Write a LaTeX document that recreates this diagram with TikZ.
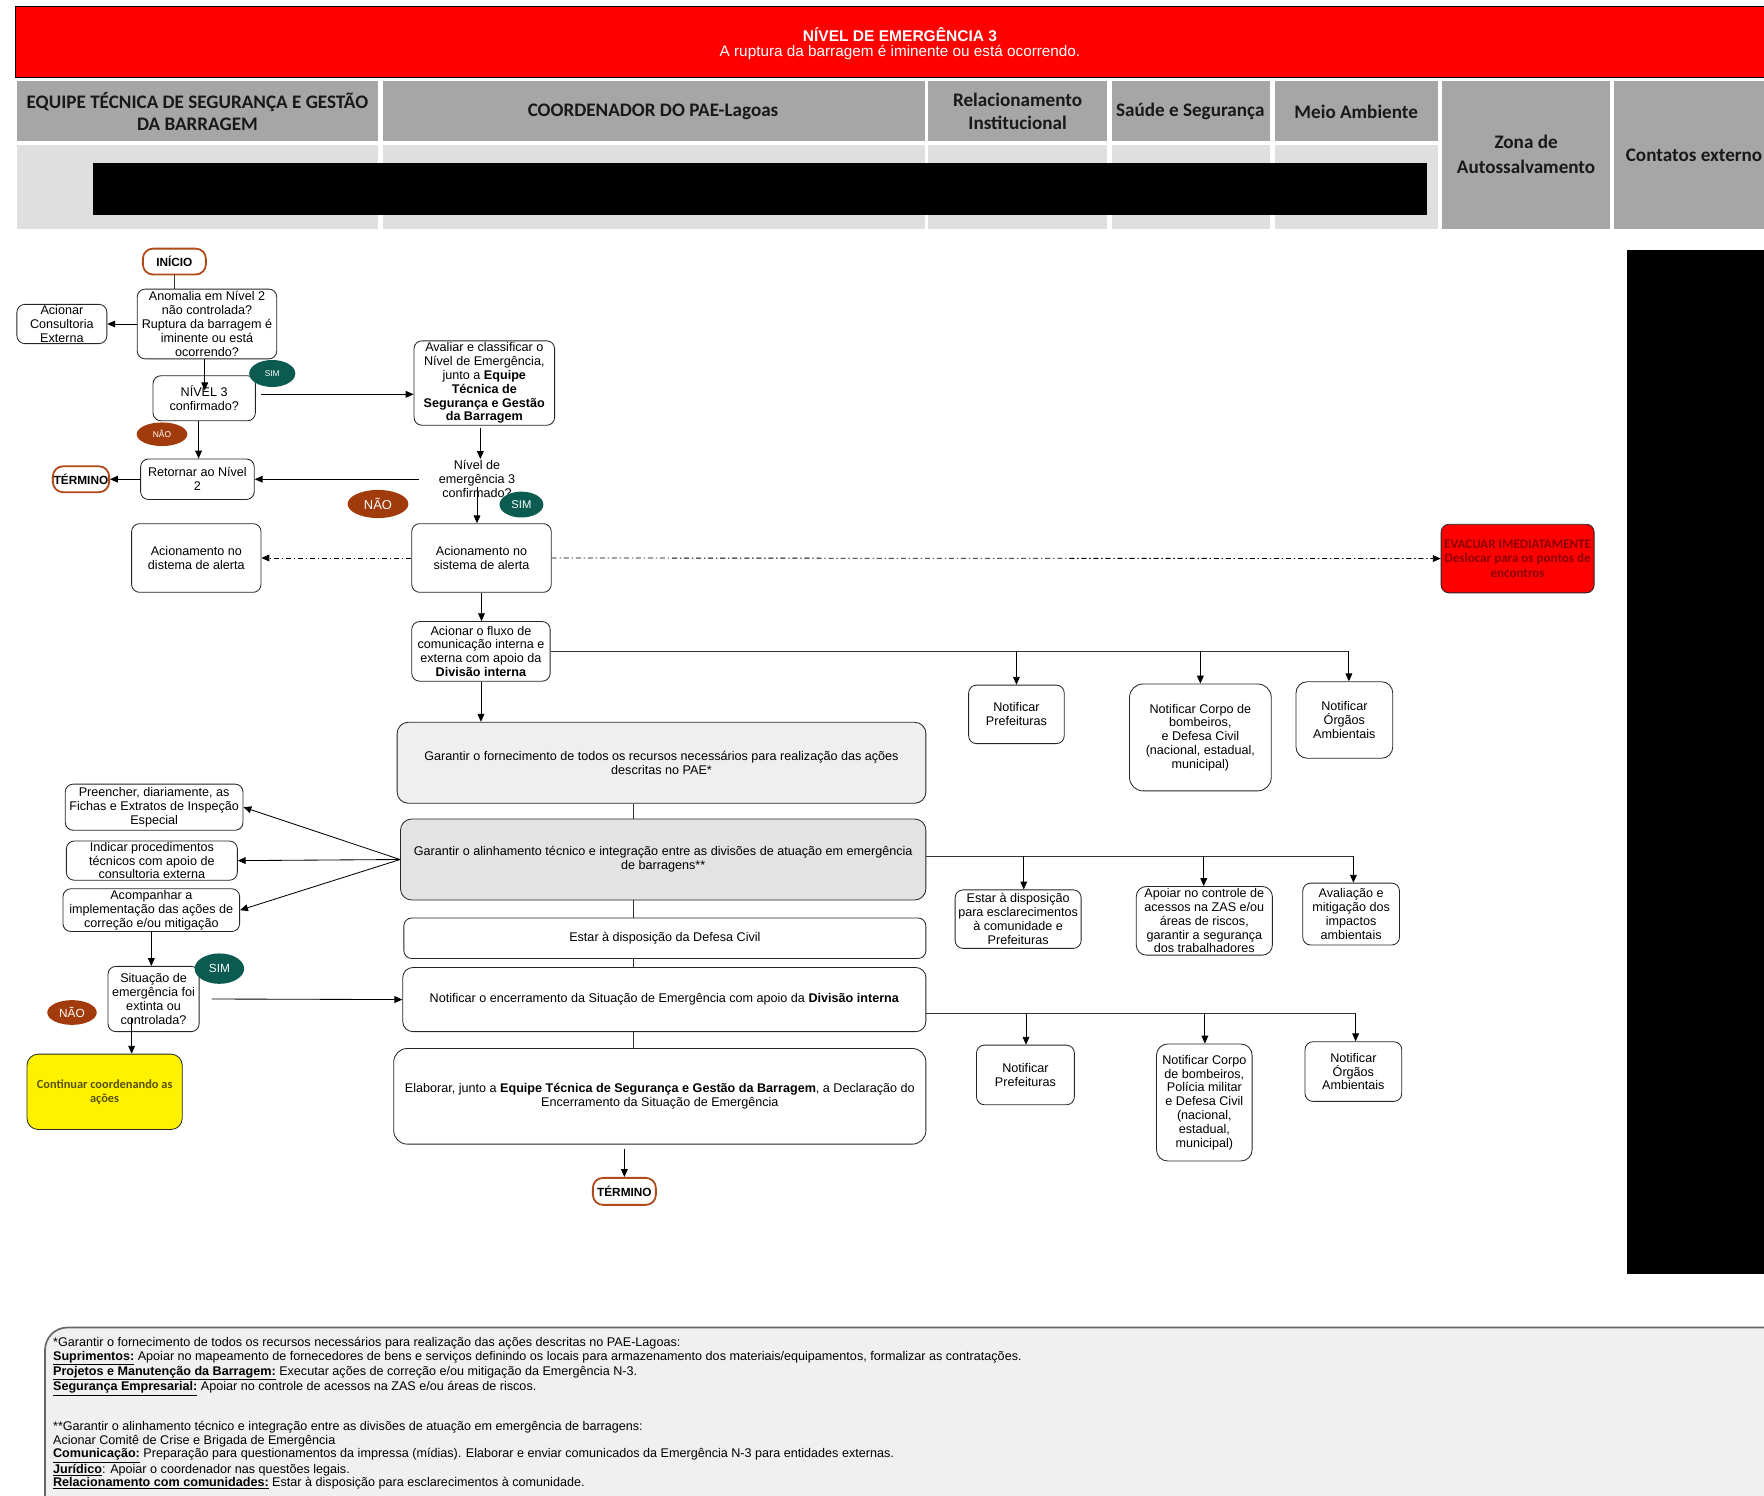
\documentclass[tikz,border=0pt]{standalone}
\usepackage{fontspec}
\setmainfont{Liberation Sans}
\newfontfamily\calib{Carlito}
\usetikzlibrary{arrows.meta,shapes.geometric}
\definecolor{hdrgray}{HTML}{A6A6A6}
\definecolor{rowgray}{HTML}{DFDFDF}
\definecolor{simc}{HTML}{0B5B50}
\definecolor{naoc}{HTML}{A23B0C}
\definecolor{termc}{HTML}{B04A1A}
\definecolor{fornc}{HTML}{EFEFEF}
\definecolor{alinc}{HTML}{E3E3E3}
\definecolor{evactxt}{HTML}{8A0000}
\definecolor{conttxt}{HTML}{55520A}
\definecolor{footc}{HTML}{F0F0F0}
\definecolor{footb}{HTML}{666666}
\newcommand{\fnlab}[1]{\underline{\textbf{#1}}}
\tikzset{
 box/.style={draw=black!85, line width=0.75pt, rounded corners=7pt, fill=white, align=center, inner sep=1pt, font=\fontsize{11.2}{12.3}\selectfont},
 term/.style={draw=termc, line width=1.6pt, rounded corners=9pt, fill=white, inner sep=0pt, font=\bfseries\fontsize{10.5}{12}\selectfont},
 badge/.style={ellipse, inner sep=0pt, text=white},
 simb/.style={badge, fill=simc},
 naob/.style={badge, fill=naoc},
 arr/.style={draw=black, line width=0.75pt, -{Triangle[length=7pt,width=6pt]}},
 conn/.style={draw=black!80, line width=0.75pt},
 ddash/.style={arr, dash pattern=on 4.5pt off 2.5pt on 1.2pt off 2.5pt},
 hdr/.style={font=\calib\bfseries\fontsize{17}{20}\selectfont, align=center, text=black!90},
}
\begin{document}
\begin{tikzpicture}[x=1pt,y=-1pt]
\useasboundingbox (0,0) rectangle (1568,1329);
\begin{scope}
\clip (0,0) rectangle (1568,1329);
% ---------- header ----------
\draw[fill=red, draw=black, line width=1pt] (14,6) rectangle (1590,69);
\node[font=\bfseries\fontsize{13.8}{15}\selectfont, text=white] (title) at (800,31) {NÍVEL DE EMERGÊNCIA 3};
\node[font=\fontsize{13.6}{15}\selectfont, text=white] (subtitle) at (800,46.5) {A ruptura da barragem é iminente ou está ocorrendo.};
\fill[hdrgray] (15,72) rectangle (336,125);
\fill[hdrgray] (340,72) rectangle (822,125);
\fill[hdrgray] (825,72) rectangle (984,125);
\fill[hdrgray] (988,72) rectangle (1129,125);
\fill[hdrgray] (1133,72) rectangle (1278,125);
\fill[hdrgray] (1282,72) rectangle (1431,204);
\fill[hdrgray] (1435,72) rectangle (1590,204);
\fill[rowgray] (15,129) rectangle (336,204);
\fill[rowgray] (340,129) rectangle (822,204);
\fill[rowgray] (825,129) rectangle (984,204);
\fill[rowgray] (988,129) rectangle (1129,204);
\fill[rowgray] (1133,129) rectangle (1278,204);
\fill[black] (83,145) rectangle (1268,191);
\fill[black] (1446,222) rectangle (1590,1132);
\node[hdr] (h1) at (175.5,99) {EQUIPE TÉCNICA DE SEGURANÇA E GESTÃO\\DA BARRAGEM};
\node[hdr] (h2) at (580.5,99) {COORDENADOR DO PAE-Lagoas};
\node[hdr] (h3) at (904.5,99) {Relacionamento\\Institucional};
\node[hdr] (h4) at (1058,99) {Saúde e Segurança};
\node[hdr] (h5) at (1205.5,99) {Meio Ambiente};
\node[hdr, font=\calib\bfseries\fontsize{17}{22}\selectfont] (h6) at (1356.5,137) {Zona de\\Autossalvamento};
\node[hdr, anchor=west, inner sep=0pt] (h7) at (1445,138) {Contatos externo};
% ---------- nodes ----------
\node[term, minimum width=56pt, minimum height=23pt] (inicio) at (155,232.5) {INÍCIO};
\node[box, minimum width=124pt, minimum height=62pt] (anom) at (184,288) {Anomalia em Nível 2\\não controlada?\\Ruptura da barragem é\\iminente ou está\\ocorrendo?};
\node[box, minimum width=80pt, minimum height=34pt] (consult) at (55,288) {Acionar\\Consultoria\\Externa};
\node[box, minimum width=91pt, minimum height=40pt] (n3) at (181.5,354) {NÍVEL 3\\confirmado?};
\node[box, minimum width=125pt, minimum height=75pt] (aval) at (430.5,340.5) {Avaliar e classificar o\\Nível de Emergência,\\junto a \textbf{Equipe}\\\textbf{Técnica de}\\\textbf{Segurança e Gestão}\\\textbf{da Barragem}};
\node[align=center, inner sep=0pt, font=\fontsize{11.2}{12.4}\selectfont] (niv) at (424,425.8) {Nível de\\emergência 3\\confirmado?};
\node[box, minimum width=101pt, minimum height=36pt] (retornar) at (175.5,426) {Retornar ao Nível\\2};
\node[term, minimum width=50pt, minimum height=23pt] (t1) at (72,426) {TÉRMINO};
\node[box, minimum width=124pt, minimum height=61pt] (acion) at (428,496) {Acionamento no\\sistema de alerta};
\node[box, minimum width=115pt, minimum height=61pt] (acionL) at (174.5,496) {Acionamento no\\distema de alerta};
\node[box, fill=red, minimum width=136pt, minimum height=61pt, inner sep=0pt, text=evactxt, font=\calib\bfseries\fontsize{11.6}{13}\selectfont] (evac) at (1349,496.5) {EVACUAR IMEDIATAMENTE\\Deslocar para os pontos de\\encontros};
\node[box, minimum width=123pt, minimum height=53pt] (fluxo) at (427.5,579) {Acionar o fluxo de\\comunicação interna e\\externa com apoio da\\\textbf{Divisão interna}};
\node[box, minimum width=85pt, minimum height=52pt] (prefA) at (903.5,635) {Notificar\\Prefeituras};
\node[box, minimum width=126pt, minimum height=95pt, rounded corners=12pt] (bombA) at (1067,655.5) {Notificar Corpo de\\bombeiros,\\e Defesa Civil\\(nacional, estadual,\\municipal)};
\node[box, minimum width=86pt, minimum height=68pt, rounded corners=10pt] (orgA) at (1195,640) {Notificar\\Órgãos\\Ambientais};
\node[box, fill=fornc, minimum width=470pt, minimum height=72pt, rounded corners=10pt] (forn) at (588,678) {Garantir o fornecimento de todos os recursos necessários para realização das ações\\descritas no PAE*};
\node[box, fill=alinc, minimum width=467pt, minimum height=72pt, rounded corners=10pt] (alin) at (589.5,764) {Garantir o alinhamento técnico e integração entre as divisões de atuação em emergência\\de barragens**};
\node[box, minimum width=158pt, minimum height=41pt] (preen) at (137,717.5) {Preencher, diariamente, as\\Fichas e Extratos de Inspeção\\Especial};
\node[box, minimum width=152pt, minimum height=34pt] (indic) at (135,765) {Indicar procedimentos\\técnicos com apoio de\\consultoria externa};
\node[box, minimum width=157pt, minimum height=38pt] (acomp) at (134.5,809) {Acompanhar a\\implementação das ações de\\correção e/ou mitigação};
\node[box, minimum width=81pt, minimum height=58pt] (sit) at (136.5,888) {Situação de\\emergência foi\\extinta ou\\controlada?};
\node[box, fill=yellow, minimum width=138pt, minimum height=67pt, rounded corners=10pt, text=conttxt, font=\calib\bfseries\fontsize{11}{12.5}\selectfont] (cont) at (93,970.5) {Continuar coordenando as\\ações};
\node[box, minimum width=464pt, minimum height=36pt] (defesa) at (591,834) {Estar à disposição da Defesa Civil};
\node[box, minimum width=465pt, minimum height=57pt, rounded corners=9pt] (notenc) at (590.5,888.5) {Notificar o encerramento da Situação de Emergência com apoio da \textbf{Divisão interna}};
\node[box, minimum width=473pt, minimum height=85pt, rounded corners=12pt] (elab) at (586.5,974.5) {Elaborar, junto a \textbf{Equipe Técnica de Segurança e Gestão da Barragem}, a Declaração do\\Encerramento da Situação de Emergência};
\node[term, minimum width=56pt, minimum height=24pt] (t2) at (555,1059) {TÉRMINO};
\node[box, minimum width=112pt, minimum height=52pt] (esclB) at (905,817) {Estar à disposição\\para esclarecimentos\\à comunidade e\\Prefeituras};
\node[box, minimum width=121pt, minimum height=61pt, rounded corners=9pt] (apoiB) at (1070.5,818.5) {Apoiar no controle de\\acessos na ZAS e/ou\\áreas de riscos,\\garantir a segurança\\dos trabalhadores};
\node[box, minimum width=86pt, minimum height=55pt] (avalB) at (1201,812.5) {Avaliação e\\mitigação dos\\impactos\\ambientais};
\node[box, minimum width=87pt, minimum height=53pt] (prefC) at (911.5,955.5) {Notificar\\Prefeituras};
\node[box, minimum width=85pt, minimum height=104pt, rounded corners=10pt] (bombC) at (1070.5,980) {Notificar Corpo\\de bombeiros,\\Polícia militar\\e Defesa Civil\\(nacional,\\estadual,\\municipal)};
\node[box, minimum width=86pt, minimum height=53pt] (orgC) at (1203,952.5) {Notificar\\Órgãos\\Ambientais};
% ---------- connectors ----------
\draw[conn] (inicio.south) -- (inicio.south |- anom.north);
\draw[arr] (anom.west) -- (consult.east);
\coordinate (n3in) at (182,347);
\draw[arr] (anom.south -| n3in) -- (n3in);
\coordinate (n3r) at (232,350.5);
\draw[arr] (n3r) -- (n3r -| aval.west);
\draw[arr] ([xshift=-5pt]n3.south) -- ([xshift=-5pt]n3.south |- retornar.north);
\coordinate (nivt) at (427,408);
\draw[arr] ([yshift=-2pt]aval.south -| nivt) -- (nivt);
\coordinate (nivl) at (372,426);
\draw[arr] (nivl) -- (retornar.east);
\draw[arr] (retornar.west) -- (t1.east);
\coordinate (nivb) at (424,433);
\draw[arr] (nivb) -- (nivb |- acion.north);
\draw[ddash] (acion.west) -- (acionL.east);
\draw[ddash] (acion.east) -- (evac.west);
\draw[arr] (acion.south) -- (acion.south |- fluxo.north);
\coordinate (fe) at (1199,579);
\draw[conn] (fluxo.east) -- (fe);
\draw[arr] (prefA.north |- fe) -- (prefA.north);
\draw[arr] (bombA.north |- fe) -- (bombA.north);
\draw[arr] (fe) -- (fe |- orgA.north);
\draw[arr] (fluxo.south) -- (fluxo.south |- forn.north);
\coordinate (spine) at (563,700);
\draw[conn] (spine |- forn.south) -- (spine |- alin.north);
\draw[conn] (spine |- alin.south) -- (spine |- defesa.north);
\draw[conn] (spine |- defesa.south) -- (spine |- notenc.north);
\draw[conn] (spine |- notenc.south) -- (spine |- elab.north);
\draw[arr] (alin.west) -- (preen.east);
\draw[arr] (alin.west) -- (indic.east);
\draw[arr] (alin.west) -- (acomp.east);
\coordinate (ae) at (1203,761);
\draw[conn] (alin.east |- ae) -- (ae);
\coordinate (a1) at (910,761);
\coordinate (a2) at (1070,761);
\draw[arr] (a1) -- (a1 |- esclB.north);
\draw[arr] (a2) -- (a2 |- apoiB.north);
\draw[arr] (ae) -- (ae |- avalB.north);
\coordinate (ne) at (1205,901);
\draw[conn] (notenc.east |- ne) -- (ne);
\coordinate (b1) at (912,901);
\coordinate (b2) at (1071,901);
\draw[arr] (b1) -- (b1 |- prefC.north);
\draw[arr] (b2) -- (b2 |- bombC.north);
\draw[arr] (ne) -- (ne |- orgC.north);
\draw[arr] (acomp.south) -- (acomp.south |- sit.north);
\coordinate (sr) at (188,888);
\draw[arr] (sr) -- (notenc.west);
\coordinate (sb) at (117,905);
\draw[arr] (sb) -- (sb |- cont.north);
\coordinate (eb) at (555,1021);
\draw[arr] (eb) -- (eb |- t2.north);
% ---------- badges ----------
\node[simb, minimum width=41pt, minimum height=24pt, font=\fontsize{7.5}{9}\selectfont] (sim1) at (242,332) {SIM};
\node[naob, minimum width=45pt, minimum height=21pt, font=\fontsize{7.5}{9}\selectfont] (nao1) at (144,386) {NÃO};
\node[simb, minimum width=39pt, minimum height=23pt, font=\fontsize{10}{12}\selectfont] (sim2) at (463.5,448.5) {SIM};
\node[naob, minimum width=54pt, minimum height=25pt, font=\fontsize{11.5}{13}\selectfont] (nao2) at (336,448) {NÃO};
\node[simb, minimum width=44pt, minimum height=27pt, font=\fontsize{10.5}{12}\selectfont] (sim3) at (195,861) {SIM};
\node[naob, minimum width=44pt, minimum height=22pt, font=\fontsize{10.5}{12}\selectfont] (nao3) at (64,900) {NÃO};
% ---------- footnote ----------
\draw[draw=footb, fill=footc, line width=1.5pt, rounded corners=20pt] (40,1180) rectangle (1640,1420);
\node[anchor=north west, align=left, inner sep=0pt, font=\fontsize{11.2}{12.1}\selectfont] (foot) at (47,1188.5) {\lineskiplimit=-5pt\relax *Garantir o fornecimento de todos os recursos necessários para realização das ações descritas no PAE-Lagoas:\\
\fnlab{Suprimentos:} Apoiar no mapeamento de fornecedores de bens e serviços definindo os locais para armazenamento dos materiais/equipamentos, formalizar as contratações.\\
\fnlab{Projetos e Manutenção da Barragem:} Executar ações de correção e/ou mitigação da Emergência N-3.\\
\fnlab{Segurança Empresarial:} Apoiar no controle de acessos na ZAS e/ou áreas de riscos.\\[22pt]
**Garantir o alinhamento técnico e integração entre as divisões de atuação em emergência de barragens:\\
Acionar Comitê de Crise e Brigada de Emergência\\
\fnlab{Comunicação:} Preparação para questionamentos da impressa (mídias). Elaborar e enviar comunicados da Emergência N-3 para entidades externas.\\
\fnlab{Jurídico}: Apoiar o coordenador nas questões legais.\\
\fnlab{Relacionamento com comunidades:} Estar à disposição para esclarecimentos à comunidade.};
\end{scope}
\end{tikzpicture}
\end{document}
